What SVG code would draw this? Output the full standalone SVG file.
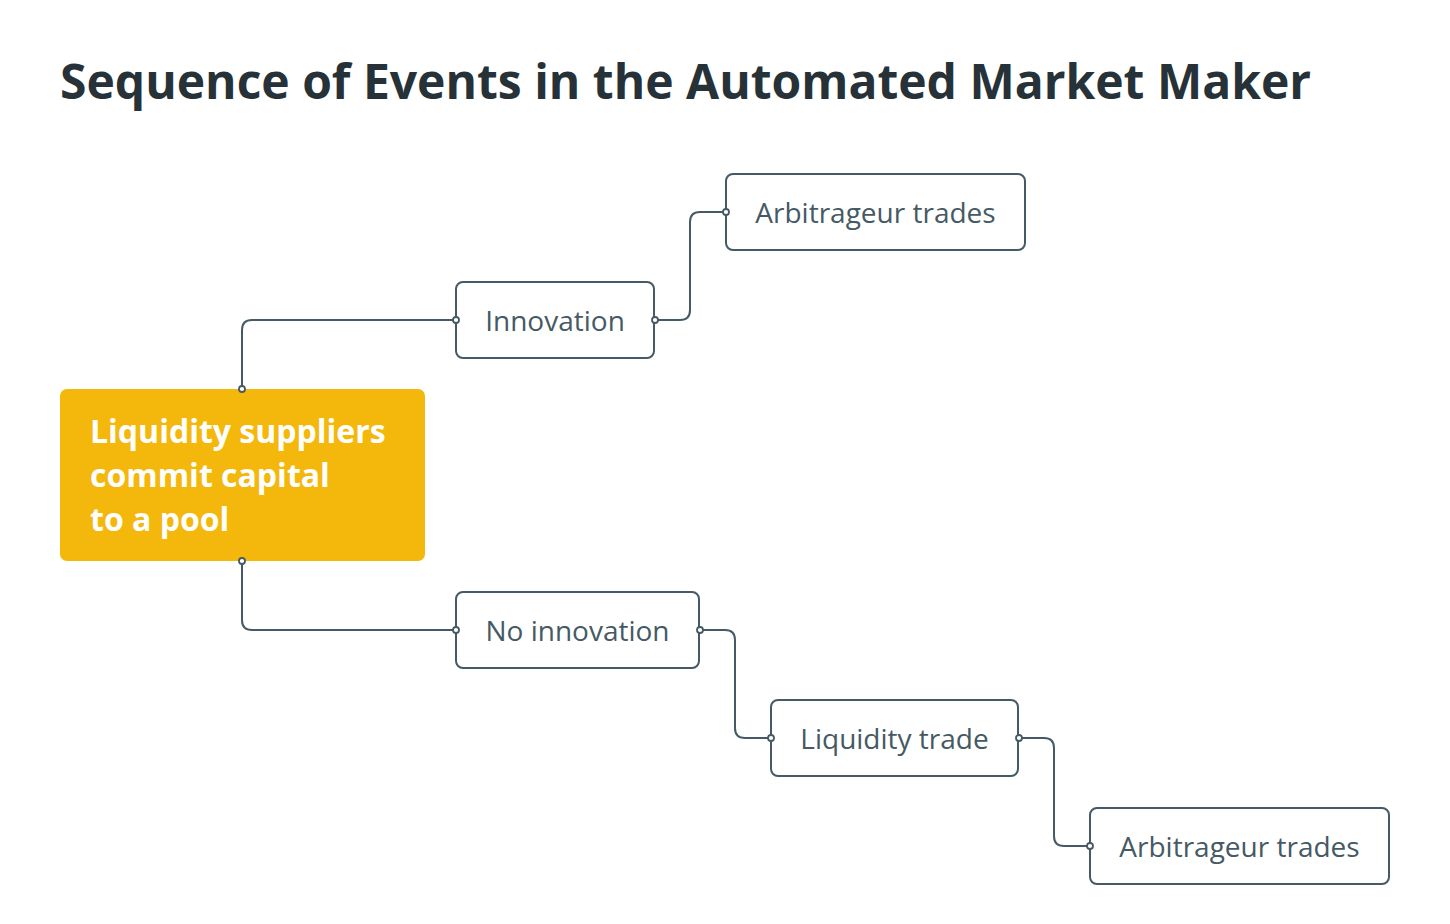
<svg xmlns="http://www.w3.org/2000/svg" width="1450" height="924" viewBox="0 0 1450 924">
<style>
.title{font-family:"Open Sans","Liberation Sans",sans-serif;font-weight:700;font-size:48px;fill:#263238}
.box{fill:#ffffff;stroke:#455a64;stroke-width:2}
.lbl{font-family:"Open Sans","Liberation Sans",sans-serif;font-size:28px;fill:#455a64;text-anchor:middle}
.main{font-family:"Open Sans","Liberation Sans",sans-serif;font-weight:700;font-size:32px;fill:#ffffff}
.conn{fill:none;stroke:#455a64;stroke-width:2}
.dot{fill:#ffffff;stroke:#455a64;stroke-width:1.8}
</style>
<rect width="1450" height="924" fill="#ffffff"/>
<text class="title" x="60" y="99">Sequence of Events in the Automated Market Maker</text>
<g id="connectors">
<path class="conn" d="M242,389 V330 Q242,320 252,320 H456"/>
<path class="conn" d="M655,320 H680 Q690,320 690,310 V222 Q690,212 700,212 H726"/>
<path class="conn" d="M242,561 V620 Q242,630 252,630 H456"/>
<path class="conn" d="M700,630 H725 Q735,630 735,640 V728 Q735,738 745,738 H771"/>
<path class="conn" d="M1019,738 H1044 Q1054,738 1054,748 V836 Q1054,846 1064,846 H1090"/>
</g>
<g id="main">
<rect x="60" y="389" width="365" height="172" rx="7" fill="#f4b80c"/>
<text class="main" x="90" y="443">Liquidity suppliers</text>
<text class="main" x="90" y="487">commit capital</text>
<text class="main" x="90" y="531">to a pool</text>
</g>
<g id="innovation">
<rect class="box" x="456" y="282" width="198" height="76" rx="7"/>
<text class="lbl" x="555" y="331">Innovation</text>
</g>
<g id="arb1">
<rect class="box" x="726" y="174" width="299" height="76" rx="7"/>
<text class="lbl" x="875.5" y="223">Arbitrageur trades</text>
</g>
<g id="noinnovation">
<rect class="box" x="456" y="592" width="243" height="76" rx="7"/>
<text class="lbl" x="577.5" y="641">No innovation</text>
</g>
<g id="liquidity">
<rect class="box" x="771" y="700" width="247" height="76" rx="7"/>
<text class="lbl" x="894.5" y="749">Liquidity trade</text>
</g>
<g id="arb2">
<rect class="box" x="1090" y="808" width="299" height="76" rx="7"/>
<text class="lbl" x="1239.5" y="857">Arbitrageur trades</text>
</g>
<g id="dots">
<circle class="dot" cx="242" cy="389" r="3"/>
<circle class="dot" cx="456" cy="320" r="3"/>
<circle class="dot" cx="655" cy="320" r="3"/>
<circle class="dot" cx="726" cy="212" r="3"/>
<circle class="dot" cx="242" cy="561" r="3"/>
<circle class="dot" cx="456" cy="630" r="3"/>
<circle class="dot" cx="700" cy="630" r="3"/>
<circle class="dot" cx="771" cy="738" r="3"/>
<circle class="dot" cx="1019" cy="738" r="3"/>
<circle class="dot" cx="1090" cy="846" r="3"/>
</g>
</svg>
